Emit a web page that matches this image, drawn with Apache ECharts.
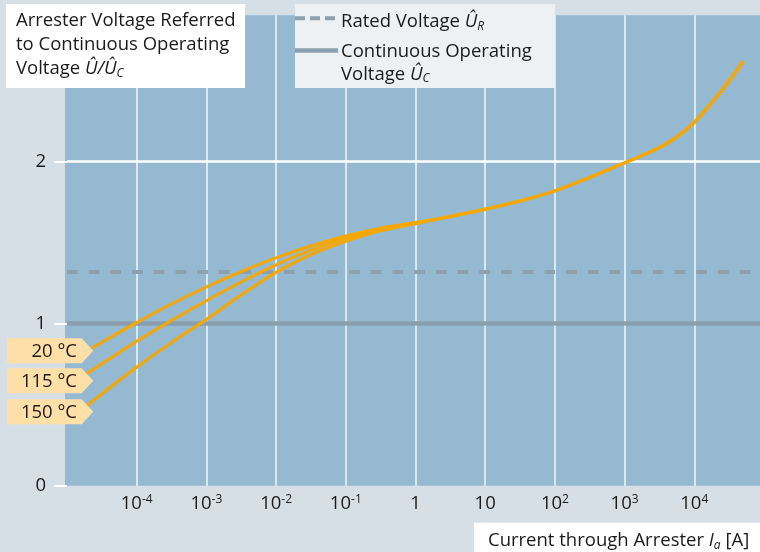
<!DOCTYPE html>
<html><head><meta charset="utf-8">
<script src="https://cdn.jsdelivr.net/npm/echarts@6/dist/echarts.min.js"></script>
<style>html,body{margin:0;padding:0;background:#d7dfe6;}#c{width:760px;height:552px;}</style>
</head><body><div id="c"></div>
<script>
// ---- data (current in A, voltage ratio U/Uc) ----
const tempLabels = ['20 °C', '115 °C', '150 °C'];
const currents20 = [2.26e-5, 4.8e-5, 1e-4, 3.16e-4, 1e-3, 3.16e-3, 1e-2, 3.16e-2, 0.1, 0.316, 1];
const voltage20  = [0.847, 0.928, 1.005, 1.120, 1.225, 1.320, 1.405, 1.478, 1.540, 1.588, 1.622];
const currents115 = [1.875e-5, 4.37e-5, 1e-4, 3.16e-4, 1e-3, 3.16e-3, 1e-2, 3.16e-2, 0.1, 0.316, 1];
const voltage115  = [0.687, 0.790, 0.890, 1.018, 1.140, 1.256, 1.362, 1.452, 1.527, 1.582, 1.620];
const currents150 = [1.92e-5, 4.37e-5, 1e-4, 3.16e-4, 1e-3, 3.16e-3, 1e-2, 3.16e-2, 0.1, 0.316, 1];
const voltage150  = [0.491, 0.613, 0.730, 0.882, 1.025, 1.175, 1.315, 1.425, 1.507, 1.572, 1.615];
const currentsHigh = [3.16, 10, 31.6, 100, 316, 1000, 1778, 3162, 5623, 1e4, 17783, 31623, 50466];
const voltageHigh  = [1.660, 1.704, 1.755, 1.818, 1.900, 1.990, 2.035, 2.085, 2.150, 2.240, 2.360, 2.495, 2.618];
const ratedVoltage = 1.316;       // Û_R / Û_C
const continuousVoltage = 1;      // Û_C / Û_C
const xTickExponents = [-4, -3, -2, -1, 0, 1, 2, 3, 4];
const yTicks = [0, 1, 2];

// ---- build ----
const FONT = '"Open Sans", "Noto Sans", sans-serif';
const FS = 18.5;
const ORANGE = '#f6a800';
const GREYLINE = '#8a9fae';
function pts(cur, val) {
  const a = cur.map((c, i) => [Math.log10(c), val[i]]);
  return a.concat(currentsHigh.map((c, i) => [Math.log10(c), voltageHigh[i]]));
}
const curveSets = [[currents20, voltage20], [currents115, voltage115], [currents150, voltage150]];
const rich = {
  it: { fontFamily: FONT, fontSize: FS, fontStyle: 'italic', color: '#1a1a1a' },
  sub: { fontFamily: FONT, fontSize: 12, fontStyle: 'italic', color: '#1a1a1a', padding: [9, 0, 0, 0] }
};
const series = curveSets.map((cs, k) => ({
  type: 'line', name: tempLabels[k], data: pts(cs[0], cs[1]), smooth: 0.35,
  showSymbol: false, lineStyle: { color: ORANGE, width: 3 }, z: 5, silent: true
}));
series.push({
  type: 'line', data: [], silent: true,
  markLine: {
    silent: true, symbol: 'none', label: { show: false },
    data: [
      { yAxis: ratedVoltage, lineStyle: { color: '#8ca0b0', width: 4, type: [10.7, 11] } },
      { yAxis: continuousVoltage, lineStyle: { color: GREYLINE, width: 4.5, type: 'solid' } }
    ]
  }, z: 3
});

const graphic = [
  { type: 'rect', shape: { x: 65, y: 15.3, width: 700, height: 470.4 }, style: { fill: '#95b9d1' }, z: -10 },
  { type: 'rect', shape: { x: 6, y: 4, width: 239, height: 84 }, style: { fill: '#ffffff' }, z: 20 },
  { type: 'text', x: 16, y: 9, z: 21, style: {
      text: 'Arrester Voltage Referred\nto Continuous Operating\nVoltage {it|Û/Û}{sub|C}',
      font: FS + 'px ' + FONT, fill: '#1a1a1a', lineHeight: 24, rich: rich } },
  { type: 'rect', shape: { x: 295, y: 4, width: 260, height: 84 }, style: { fill: '#eef1f4' }, z: 20 },
  { type: 'line', shape: { x1: 295, y1: 18.3, x2: 340, y2: 18.3 }, style: { stroke: '#8ca0b0', lineWidth: 4, lineDash: [10, 5] }, z: 21 },
  { type: 'line', shape: { x1: 295, y1: 50.5, x2: 338, y2: 50.5 }, style: { stroke: GREYLINE, lineWidth: 4.5 }, z: 21 },
  { type: 'text', x: 341, y: 10, z: 21, style: {
      text: 'Rated Voltage {it|Û}{sub|R}', font: FS + 'px ' + FONT, fill: '#1a1a1a', lineHeight: 24, rich: rich } },
  { type: 'text', x: 341, y: 40, z: 21, style: {
      text: 'Continuous Operating\nVoltage {it|Û}{sub|C}', font: FS + 'px ' + FONT, fill: '#1a1a1a', lineHeight: 23, rich: rich } },
  { type: 'rect', shape: { x: 474, y: 522.7, width: 286, height: 30 }, style: { fill: '#ffffff' }, z: 20 },
  { type: 'text', x: 488, y: 529, z: 21, style: {
      text: 'Current through Arrester {it|I}{sub|a} [A]', font: FS + 'px ' + FONT, fill: '#1a1a1a', lineHeight: 24, rich: rich } }
];
const tagTops = [338.3, 368.3, 399.3];
tagTops.forEach((t, k) => {
  graphic.push({ type: 'polygon', z: 20, shape: { points: [[7, t], [81.7, t], [93.3, t + 12.5], [81.7, t + 25], [7, t + 25]] },
    style: { fill: '#fedfa7' } });
  graphic.push({ type: 'text', z: 21, x: 77, y: t + 13, style: {
    text: tempLabels[k], font: FS + 'px ' + FONT, fill: '#1a1a1a', align: 'right', verticalAlign: 'middle' } });
});

const chart = echarts.init(document.getElementById('c'), null, { renderer: 'canvas' });
chart.setOption({
  backgroundColor: '#d7dfe6',
  animation: false,
  grid: { left: 67, width: 697, top: 15.3, height: 470.4, containLabel: false, outerBoundsMode: 'none' },
  xAxis: {
    type: 'value', min: -5, max: 5, interval: 1,
    axisLine: { show: false, onZero: false }, axisTick: { show: false },
    splitLine: { show: true, showMinLine: false, showMaxLine: false, lineStyle: { color: '#ffffff', width: 1.5, opacity: 0.9 } },
    axisLabel: {
      customValues: xTickExponents, margin: 7, color: '#1a1a1a', fontFamily: FONT, fontSize: FS,
      formatter: v => v === 0 ? '{b|1}' : (v === 1 ? '{b|10}' : '{b|10}{s|' + v + '}'),
      rich: {
        b: { fontFamily: FONT, fontSize: FS, color: '#1a1a1a', lineHeight: 22 },
        s: { fontFamily: FONT, fontSize: 12, color: '#1a1a1a', padding: [0, 0, 9, 0], lineHeight: 14 }
      }
    }
  },
  yAxis: {
    type: 'value', min: 0, max: 2.9, interval: 1,
    axisLine: { show: false, onZero: false },
    axisTick: { show: true, customValues: yTicks, length: 13, lineStyle: { color: '#ffffff', width: 2 } },
    splitLine: { show: true, showMinLine: false, showMaxLine: true, lineStyle: { color: '#ffffff', width: 2.5 } },
    axisLabel: { customValues: yTicks, margin: 21, color: '#1a1a1a', fontFamily: FONT, fontSize: FS }
  },
  graphic: graphic,
  series: series
});
</script></body></html>
